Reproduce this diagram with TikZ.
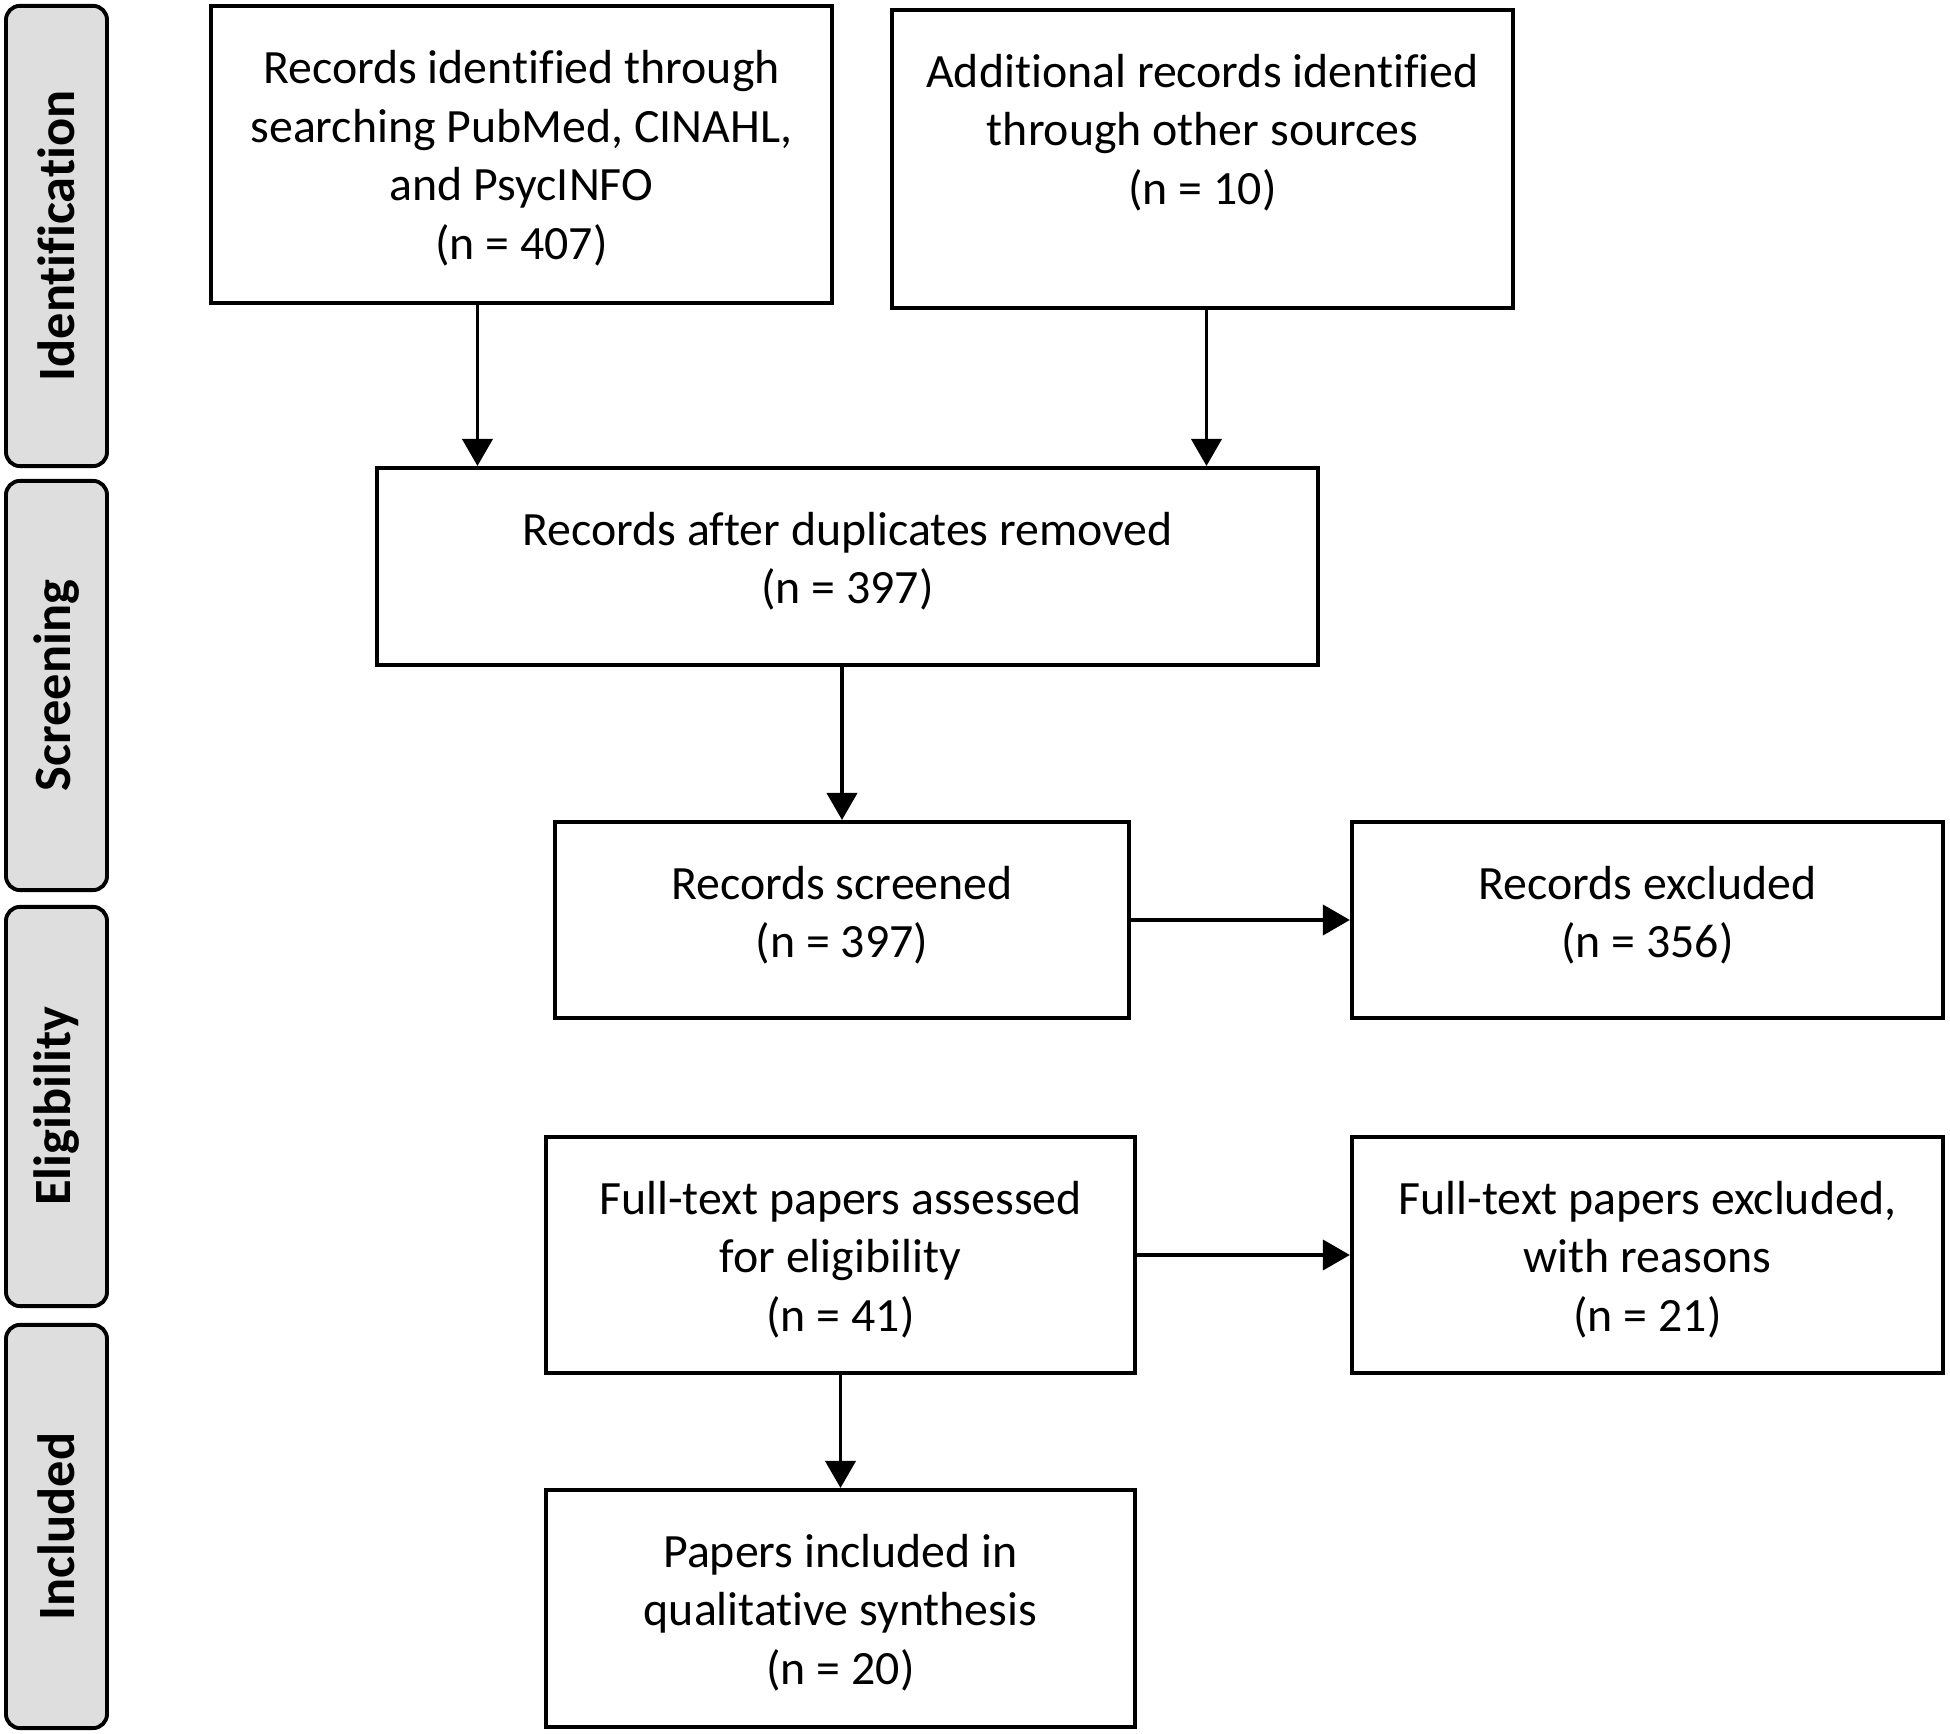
\documentclass[tikz,border=0pt]{standalone}
\usepackage{fontspec}
\setmainfont{Carlito}[Ligatures=CommonOff]
\usetikzlibrary{arrows.meta}

\begin{document}
\begin{tikzpicture}[x=0.01cm,y=-0.01cm,
  box/.style={draw,line width=1.1pt,rectangle,inner xsep=0pt,inner ysep=0pt,
    align=center,font=\fontsize{13.6}{16.65}\selectfont},
  side/.style={draw,line width=1.1pt,fill=black!13,rounded corners=0.14cm,rotate=90,
    minimum height=1.01cm,inner sep=0pt,font=\fontsize{14.9}{18}\selectfont\bfseries},
  arr/.style={line width=1.1pt,-{Triangle[length=0.27cm,width=0.3cm]}}]
\useasboundingbox (0,0) rectangle (1950,1734);
% stage labels down the left side
\foreach \stage/\y/\len in {Identification/236/4.6, Screening/685.5/4.09,
  Eligibility/1106.5/3.99, Included/1526.5/4.03}
  \node[side,minimum width=\len cm] (\stage) at (56.5,\y) {\stage};
% boxes (text height = top to last baseline)
\node[box,minimum width=6.21cm,text height=2.531cm,text depth=0.439cm] (id1) at (521.5,154.5)
  {Records identified through\\searching PubMed, CINAHL,\\and PsycINFO\\(n = 407)};
\node[box,minimum width=6.21cm,text height=1.944cm,text depth=1.036cm] (id2) at (1202.5,159)
  {Additional records identified\\through other sources\\(n = 10)};
\node[box,minimum width=9.41cm,text height=1.357cm,text depth=0.613cm] (dup) at (847.5,566.5)
  {Records after duplicates removed\\(n = 397)};
\node[box,minimum width=5.74cm,text height=1.357cm,text depth=0.603cm] (scr) at (842,920)
  {Records screened\\(n = 397)};
\node[box,minimum width=5.91cm,text height=1.357cm,text depth=0.603cm] (exc1) at (1647.5,920)
  {Records excluded\\(n = 356)};
\node[box,minimum width=5.89cm,text height=1.944cm,text depth=0.416cm] (full) at (840.5,1255)
  {Full-text papers assessed\\for eligibility\\(n = 41)};
\node[box,minimum width=5.91cm,text height=1.944cm,text depth=0.416cm] (exc2) at (1647.5,1255)
  {Full-text papers excluded,\\with reasons\\(n = 21)};
\node[box,minimum width=5.89cm,text height=1.944cm,text depth=0.426cm] (incl) at (840.5,1608.5)
  {Papers included in\\qualitative synthesis\\(n = 20)};
% arrows
\draw[arr] ([xshift=-0.44cm]id1.south) -- ([xshift=-0.44cm]id1.south |- dup.north);
\draw[arr] ([xshift=0.04cm]id2.south) -- ([xshift=0.04cm]id2.south |- dup.north);
\draw[arr] (dup.south -| scr.north) -- (scr.north);
\draw[arr] (scr.east) -- (exc1.west);
\draw[arr] (full.east) -- (exc2.west);
\draw[arr] (full.south) -- (incl.north);
\end{tikzpicture}
\end{document}
